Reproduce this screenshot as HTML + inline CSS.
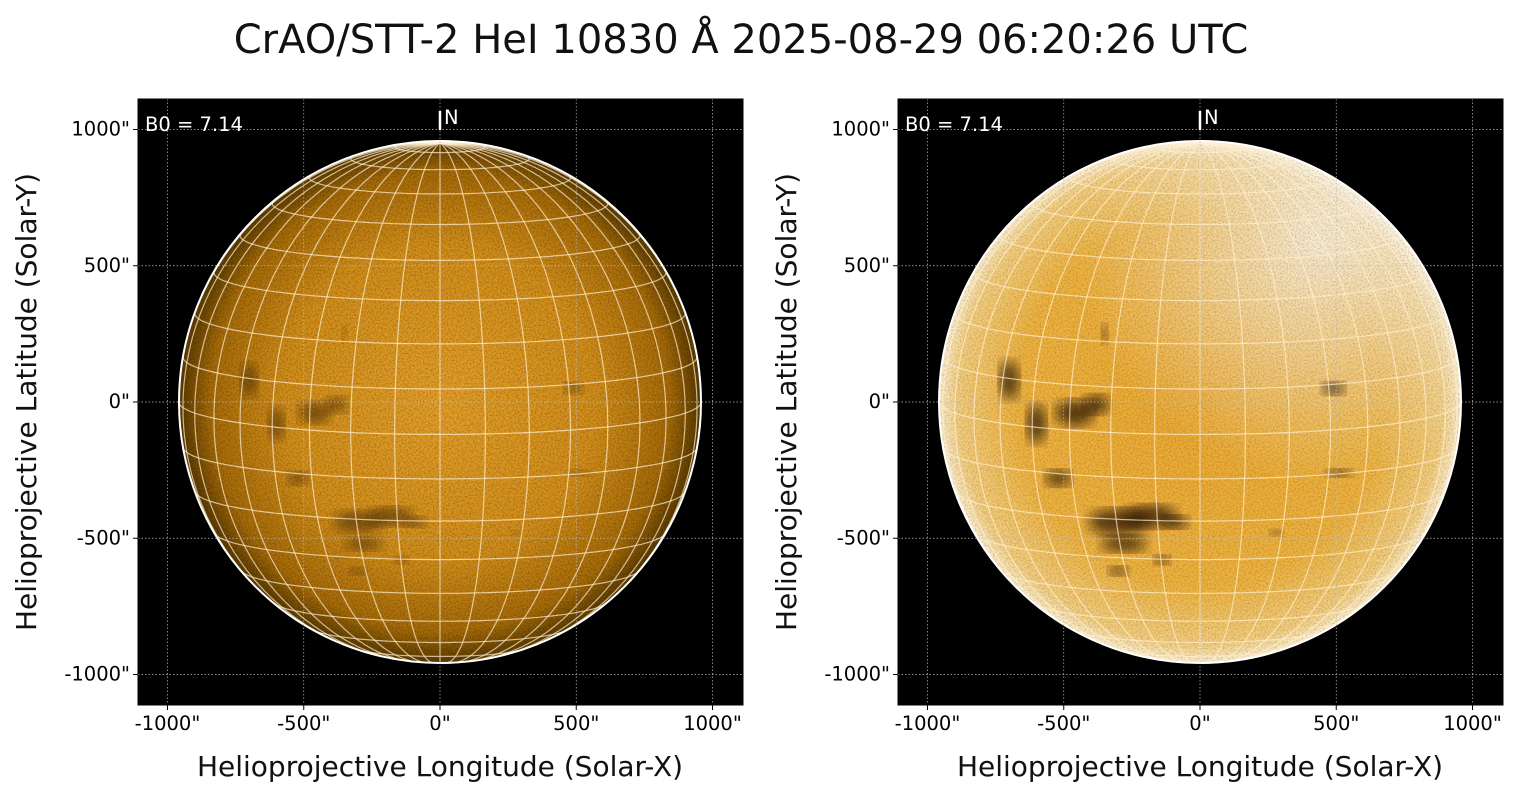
<!DOCTYPE html>
<html><head><meta charset="utf-8"><style>
html,body{margin:0;padding:0;background:#fff;}
body{width:1520px;height:795px;overflow:hidden;font-family:"DejaVu Sans","Liberation Sans",sans-serif;}
</style></head><body>
<svg id="s" width="1520" height="795" xmlns="http://www.w3.org/2000/svg" style="font-family:'DejaVu Sans','Liberation Sans',sans-serif">
<defs>
<radialGradient id="gL" cx="0.5" cy="0.5" r="0.5">
<stop offset="0" stop-color="#e8a22a"/><stop offset="0.6" stop-color="#d5901a"/><stop offset="0.88" stop-color="#a86c08"/><stop offset="1" stop-color="#5a3a00"/>
</radialGradient>
<radialGradient id="gR" cx="0.5" cy="0.5" r="0.5">
<stop offset="0" stop-color="#eeaa30"/><stop offset="0.7" stop-color="#f0b440"/><stop offset="0.93" stop-color="#f6d080"/><stop offset="1" stop-color="#fff0d0"/>
</radialGradient>
<radialGradient id="wR" cx="0.72" cy="0.2" r="0.45">
<stop offset="0" stop-color="#fff" stop-opacity="0.75"/><stop offset="1" stop-color="#fff" stop-opacity="0"/>
</radialGradient>
<filter id="bl"><feGaussianBlur stdDeviation="6"/></filter>
<filter id="nz" x="0" y="0" width="100%" height="100%"><feTurbulence type="fractalNoise" baseFrequency="0.6" numOctaves="2" seed="3"/><feColorMatrix type="matrix" values="0 0 0 0 0  0 0 0 0 0  0 0 0 0 0  0 0 0 -1.6 1.0"/></filter>
</defs>
<text x="741" y="53" font-size="40" text-anchor="middle" fill="#111">CrAO/STT-2 HeI 10830 Å 2025-08-29 06:20:26 UTC</text>
<g id="p0"></g><g id="p1"></g>
</svg>
<script>
const NS="http://www.w3.org/2000/svg";
function el(p,t,a,txt){const e=document.createElementNS(NS,t);for(const k in a)e.setAttribute(k,a[k]);if(txt)e.textContent=txt;p.appendChild(e);return e;}
const B0=7.14*Math.PI/180;
function panel(g,x0,right){
 const cx=x0+302,cy=402,R=261,s=0.2725;
 const L=x0,T=99,W=605,H=606;
 el(g,"rect",{x:L,y:T,width:W,height:H,fill:"#000"});
 const cid="c"+x0;
 el(el(g,"clipPath",{id:cid}),"circle",{cx:cx,cy:cy,r:R});
 const d=el(g,"g",{"clip-path":"url(#"+cid+")"});
 el(d,"circle",{cx:cx,cy:cy,r:R,fill:right?"url(#gR)":"url(#gL)"});
 if(right) el(d,"circle",{cx:cx,cy:cy,r:R,fill:"url(#wR)"});
 el(d,"rect",{x:cx-R,y:cy-R,width:2*R,height:2*R,filter:"url(#nz)",opacity:right?0.25:0.35});
 const dark=[[-460,-40,60,40],[-380,-10,40,30],[-300,-440,90,40],[-180,-420,80,35],[-90,-440,40,20],[-520,-280,40,25],[-600,-80,30,60],[490,50,35,20],[510,-260,40,12],[-350,250,10,30],[-140,-580,25,15],[-300,-620,30,15],[280,-480,20,10],[-700,80,30,60],[-280,-520,70,25]];
 for(const [x,y,a,b] of dark) el(d,"ellipse",{cx:cx+x*s,cy:cy-y*s,rx:a*s*(right?1.2:1),ry:b*s*(right?1.2:1),fill:right?"#201000":"#2a1800",opacity:right?0.7:0.5,filter:"url(#bl)"});
 const gs="rgba(255,240,210,0.7)";
 function pt(phi,lam){const x=Math.cos(phi)*Math.sin(lam),y=Math.sin(phi)*Math.cos(B0)-Math.cos(phi)*Math.cos(lam)*Math.sin(B0),z=Math.sin(phi)*Math.sin(B0)+Math.cos(phi)*Math.cos(lam)*Math.cos(B0);return [cx+x*R,cy-y*R,z];}
 function line(f){let dd="",pen=false;for(let i=0;i<=180;i++){const [X,Y,Z]=f(i/180);if(Z>=0){dd+=(pen?"L":"M")+X.toFixed(1)+" "+Y.toFixed(1);pen=true;}else pen=false;}el(d,"path",{d:dd,fill:"none",stroke:gs,"stroke-width":1.2});}
 const r=Math.PI/180;
 for(let lo=-180;lo<180;lo+=10)line(t=>pt((-90+180*t)*r,lo*r));
 for(let la=-80;la<=80;la+=10)line(t=>pt(la*r,(-180+360*t)*r));
 el(g,"circle",{cx:cx,cy:cy,r:R,fill:"none",stroke:"#fff","stroke-width":2});
 const ticks=[-1000,-500,0,500,1000];
 for(const v of ticks){const X=cx+v*s,Y=cy-v*s;
  el(g,"line",{x1:X,y1:T,x2:X,y2:T+H,stroke:"#bbb","stroke-width":0.7,"stroke-dasharray":"1.5,2"});
  el(g,"line",{x1:L,y1:Y,x2:L+W,y2:Y,stroke:"#bbb","stroke-width":0.7,"stroke-dasharray":"1.5,2"});
  el(g,"line",{x1:X,y1:T+H,x2:X,y2:T+H+5,stroke:"#000"});
  el(g,"line",{x1:L-5,y1:Y,x2:L,y2:Y,stroke:"#000"});
  el(g,"text",{x:X,y:T+H+25,"font-size":19.5,"text-anchor":"middle",fill:"#000"},v+'"');
  el(g,"text",{x:L-8,y:Y+6,"font-size":19.5,"text-anchor":"end",fill:"#000"},v+'"');
 }
 el(g,"rect",{x:L,y:T,width:W,height:H,fill:"none",stroke:"#000","stroke-width":1});
 el(g,"text",{x:L+7,y:131,"font-size":19.5,fill:"#fff"},"B0 = 7.14");
 el(g,"line",{x1:cx,y1:111,x2:cx,y2:130,stroke:"#fff","stroke-width":2.5});
 el(g,"text",{x:cx+4,y:124,"font-size":19.5,fill:"#fff"},"N");
 el(g,"text",{x:cx,y:776,"font-size":28,"text-anchor":"middle",fill:"#111"},"Helioprojective Longitude (Solar-X)");
 el(g,"text",{x:0,y:0,"font-size":28,"text-anchor":"middle",fill:"#111",transform:"translate("+(L-102)+",402) rotate(-90)"},"Helioprojective Latitude (Solar-Y)");
}
panel(document.getElementById("p0"),138,false);
panel(document.getElementById("p1"),898,true);
</script>
</body></html>
